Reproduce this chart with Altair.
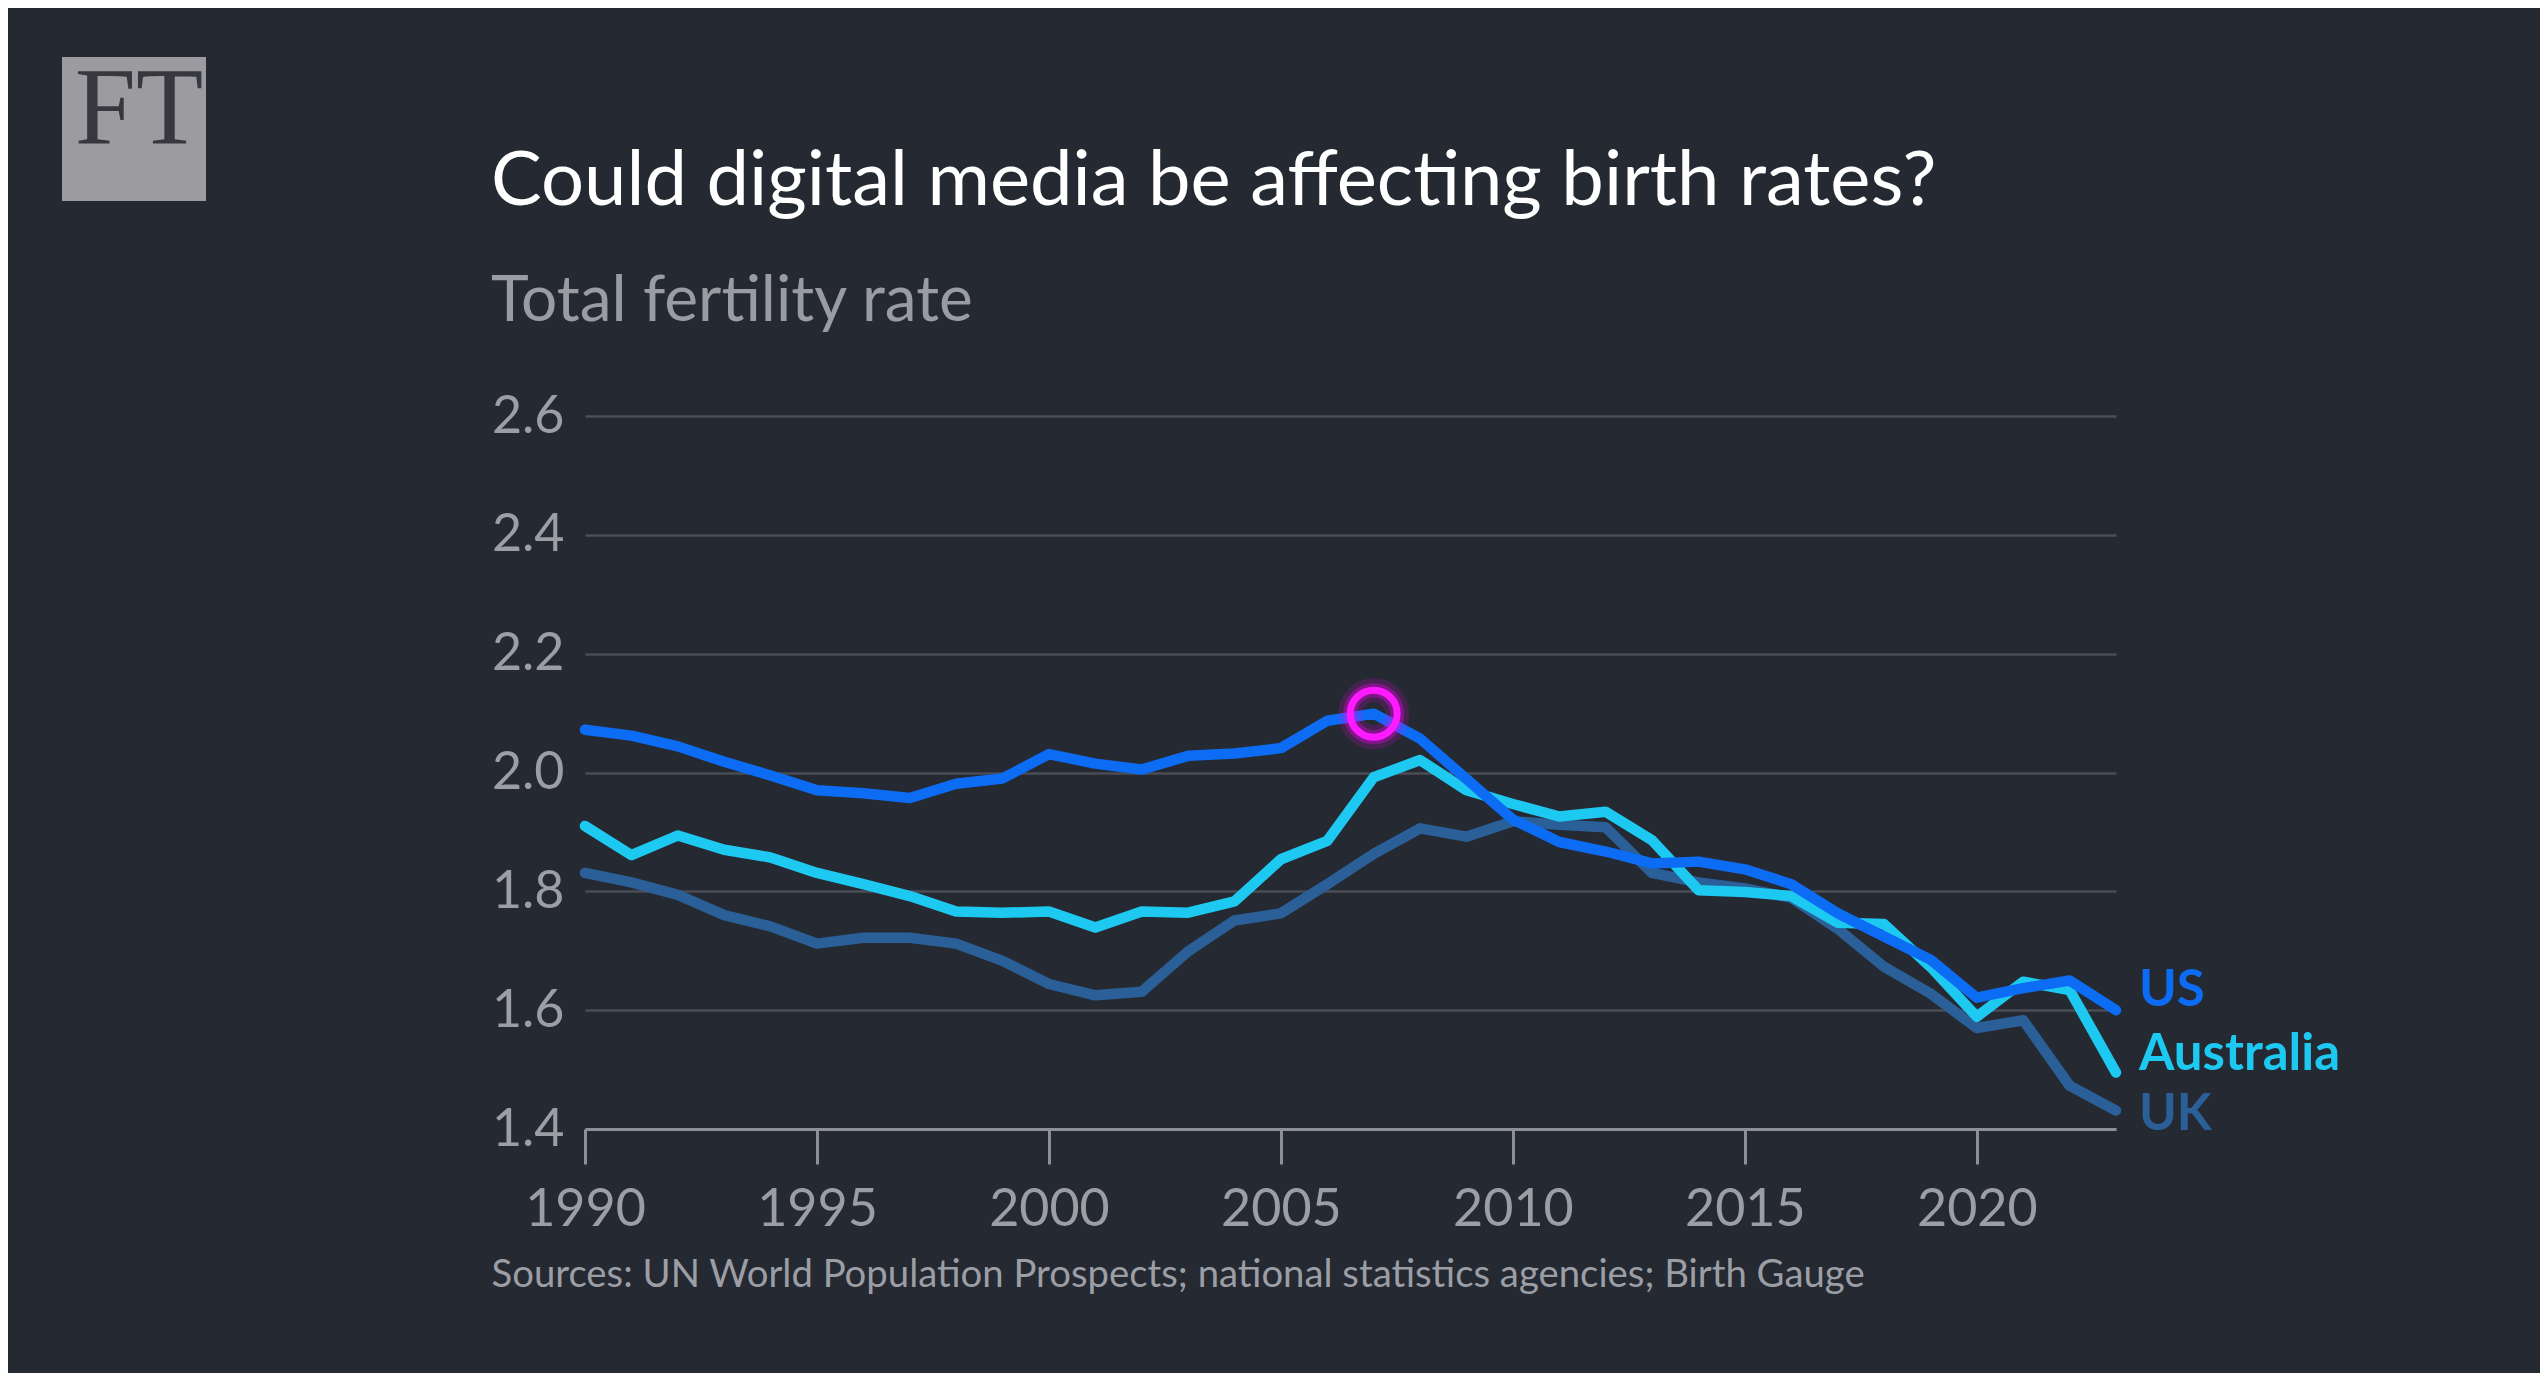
import altair as alt
import pandas as pd

# ---- data ----
years = list(range(1990, 2024))
us = [2.072, 2.062, 2.044, 2.018, 1.995, 1.970, 1.965, 1.957, 1.981, 1.990,
      2.031, 2.015, 2.005, 2.028, 2.032, 2.041, 2.087, 2.099, 2.057, 1.989,
      1.921, 1.883, 1.867, 1.847, 1.850, 1.837, 1.812, 1.763, 1.724, 1.685,
      1.621, 1.637, 1.650, 1.600]
australia = [1.910, 1.861, 1.894, 1.870, 1.857, 1.831, 1.812, 1.792, 1.766, 1.764,
             1.766, 1.739, 1.766, 1.764, 1.783, 1.854, 1.885, 1.992, 2.021, 1.970,
             1.947, 1.926, 1.934, 1.886, 1.802, 1.799, 1.792, 1.747, 1.745, 1.673,
             1.589, 1.648, 1.634, 1.495]
uk = [1.831, 1.815, 1.794, 1.760, 1.741, 1.712, 1.722, 1.722, 1.712, 1.683,
      1.644, 1.625, 1.631, 1.699, 1.751, 1.763, 1.812, 1.863, 1.906, 1.892,
      1.918, 1.912, 1.908, 1.831, 1.815, 1.805, 1.789, 1.737, 1.673, 1.628,
      1.570, 1.583, 1.473, 1.431]

countries = ["UK", "Australia", "US"]          # drawing order (US on top)
series = {"US": us, "Australia": australia, "UK": uk}
colors = {"US": "#0d6cf4", "Australia": "#1ec9f1", "UK": "#2a6097"}

label_names = ["US", "Australia", "UK"]
label_values = [1.632, 1.525, 1.424]            # where the end labels sit

highlight_year = [2007]
x_ticks = [1990, 1995, 2000, 2005, 2010, 2015, 2020]
y_ticks = [1.4, 1.6, 1.8, 2.0, 2.2, 2.4, 2.6]

title_text = "Could digital media be affecting birth rates?"
subtitle_text = "Total fertility rate"
source_text = "Sources: UN World Population Prospects; national statistics agencies; Birth Gauge"

BG = "#252932"
FONT = "Lato"

rows = []
for c in countries:
    for yr, v in zip(years, series[c]):
        rows.append({"year": yr, "value": v, "country": c})
df = pd.DataFrame(rows)

labels_df = pd.DataFrame({
    "year": [years[-1]] * len(label_names),
    "value": label_values,
    "country": label_names,
    "color": [colors[n] for n in label_names],
})

hl_df = pd.DataFrame({"year": highlight_year,
                      "value": [us[years.index(y)] for y in highlight_year]})

x_enc = alt.X(
    "year:Q",
    scale=alt.Scale(domain=[1990, 2023], nice=False, zero=False),
    axis=alt.Axis(
        values=x_ticks, format="d", grid=False,
        labelFont=FONT, labelFontSize=52, labelColor="#9c9ea5", labelPadding=20,
        labelFlush=False,
        tickSize=35, tickWidth=3, tickColor="#8d9096",
        domainColor="#8d9096", domainWidth=3,
        title=source_text, titleFont=FONT, titleFontSize=38.3, titleFontWeight="normal",
        titleColor="#9c9ea5", titleX=-94, titleY=157, titleAlign="left",
        titleBaseline="alphabetic", titleAngle=0,
    ),
)
y_enc = alt.Y(
    "value:Q",
    scale=alt.Scale(domain=[1.4, 2.6], nice=False, zero=False),
    axis=alt.Axis(
        values=y_ticks, format=".1f", title=None, domain=False, ticks=False,
        grid=True, gridColor="#4a4d55", gridWidth=2.5,
        labelFont=FONT, labelFontSize=52, labelColor="#9c9ea5", labelPadding=21,
    ),
)

layers = []
for c in countries:
    layers.append(
        alt.Chart(df).transform_filter(alt.datum.country == c)
        .mark_line(color=colors[c], strokeWidth=10.5, strokeJoin="round", strokeCap="round")
        .encode(x=x_enc, y=y_enc)
    )

glow1 = alt.Chart(hl_df).mark_point(shape="circle", filled=False, size=2200,
                                     strokeWidth=24, color="#ff00ff", opacity=0.15).encode(x=x_enc, y=y_enc)
glow2 = alt.Chart(hl_df).mark_point(shape="circle", filled=False, size=2200,
                                     strokeWidth=14, color="#ff00ff", opacity=0.32).encode(x=x_enc, y=y_enc)
ring = alt.Chart(hl_df).mark_point(shape="circle", filled=False, size=2200,
                                   strokeWidth=7, color="#ff1aff", opacity=1).encode(x=x_enc, y=y_enc)

end_labels = alt.Chart(labels_df).mark_text(
    align="left", baseline="middle", dx=23, font=FONT, fontSize=51, fontWeight="bold"
).encode(x=x_enc, y=y_enc, text="country:N", color=alt.Color("color:N", scale=None))

# ---- header texts and FT logo (decoration outside the plot area) ----
txt_df = pd.DataFrame({"title": [title_text], "subtitle": [subtitle_text], "logo": ["FT"]})
title_mark = alt.Chart(txt_df).mark_text(
    font=FONT, fontSize=76, color="#ffffff", align="left", baseline="alphabetic"
).encode(x=alt.value(-94), y=alt.value(-211), text="title:N")
subtitle_mark = alt.Chart(txt_df).mark_text(
    font=FONT, fontSize=64, color="#9a9ca3", align="left", baseline="alphabetic"
).encode(x=alt.value(-94), y=alt.value(-95), text="subtitle:N")
logo_box = alt.Chart(txt_df).mark_rect(color="#9c9ca0").encode(
    x=alt.value(-523), x2=alt.value(-379), y=alt.value(-359), y2=alt.value(-215))
logo_txt = alt.Chart(txt_df).mark_text(
    font="Liberation Serif", fontSize=110, color="#36383e", align="center",
    baseline="alphabetic").encode(x=alt.value(-446), y=alt.value(-272), text="logo:N")

chart = alt.layer(*layers, glow1, glow2, ring, end_labels,
                  title_mark, subtitle_mark, logo_box, logo_txt).properties(
    width=1531, height=713,
    autosize="none",
    padding={"left": 577, "top": 408, "right": 424, "bottom": 244},
).configure(background=BG).configure_view(stroke=None)

chart.save("out.html", embed_options={"renderer": "svg", "actions": False})
